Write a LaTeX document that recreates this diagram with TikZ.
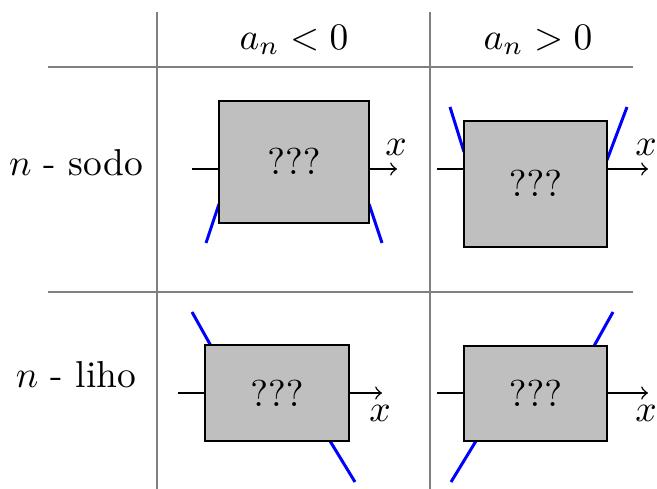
\documentclass[tikz,border=0pt]{standalone}
\usetikzlibrary{fit}
\begin{document}
\begin{tikzpicture}[x=0.267pt,y=-0.267pt,
  gridline/.style={draw=gray, line width=0.6pt},
  box/.style={draw=black, fill=lightgray, inner sep=0pt, line width=0.4pt},
  axis/.style={->, line width=0.4pt},
  branch/.style={draw=blue, line width=0.8pt},
  lbl/.style={inner sep=0pt}]
\useasboundingbox (0,0) rectangle (657,489);
% grid
\coordinate (v1t) at (157,12); \coordinate (v1b) at (157,489);
\coordinate (v2t) at (430,12); \coordinate (v2b) at (430,489);
\coordinate (h1l) at (48,67);  \coordinate (h1r) at (633,67);
\coordinate (h2l) at (48,292); \coordinate (h2r) at (633,292);
\draw[gridline] (v1t) -- (v1b);
\draw[gridline] (v2t) -- (v2b);
\draw[gridline] (h1l) -- (h1r);
\draw[gridline] (h2l) -- (h2r);
% headers
\node[lbl] (hneg) at (294,40) {$a_n<0$};
\node[lbl] (hpos) at (538,40) {$a_n>0$};
\node[lbl] (rsodo) at (76,163) {$n$ - sodo};
\node[lbl] (rliho) at (76,375) {$n$ - liho};
% cell 1
\coordinate (a1s) at (192,169); \coordinate (a1e) at (397,169);
\draw[axis] (a1s) -- (a1e);
\node[lbl] (x1) at (396,147) {$x$};
\coordinate (p1a) at (206,243); \coordinate (p1b) at (219,204);
\coordinate (p1c) at (369,204); \coordinate (p1d) at (382,243);
\draw[branch] (p1a) -- (p1b);
\draw[branch] (p1c) -- (p1d);
\node[box, fit={(219,101) (369,223)}] (b1) {};
\node (q1) at (b1.center) {$???$};
% cell 2
\coordinate (a2s) at (437,169); \coordinate (a2e) at (648,169);
\draw[axis] (a2s) -- (a2e);
\node[lbl] (x2) at (646,147) {$x$};
\coordinate (p2a) at (450,107); \coordinate (p2b) at (464,152);
\coordinate (p2c) at (607,160); \coordinate (p2d) at (627,107);
\draw[branch] (p2a) -- (p2b);
\draw[branch] (p2c) -- (p2d);
\node[box, fit={(464,121) (607,247)}] (b2) {};
\node (q2) at (b2.center) {$???$};
% cell 3
\coordinate (a3s) at (178,393); \coordinate (a3e) at (382,393);
\draw[axis] (a3s) -- (a3e);
\node[lbl] (x3) at (380,413) {$x$};
\coordinate (p3a) at (192,312); \coordinate (p3b) at (211,346);
\coordinate (p3c) at (330,441); \coordinate (p3d) at (355,482);
\draw[branch] (p3a) -- (p3b);
\draw[branch] (p3c) -- (p3d);
\node[box, fit={(205,345) (349,441)}] (b3) {};
\node (q3) at (b3.center) {$???$};
% cell 4
\coordinate (a4s) at (437,393); \coordinate (a4e) at (648,393);
\draw[axis] (a4s) -- (a4e);
\node[lbl] (x4) at (646,413) {$x$};
\coordinate (p4a) at (613,312); \coordinate (p4b) at (594,346);
\coordinate (p4c) at (476,441); \coordinate (p4d) at (451,482);
\draw[branch] (p4a) -- (p4b);
\draw[branch] (p4c) -- (p4d);
\node[box, fit={(464,346) (607,441)}] (b4) {};
\node (q4) at (b4.center) {$???$};
\end{tikzpicture}
\end{document}
